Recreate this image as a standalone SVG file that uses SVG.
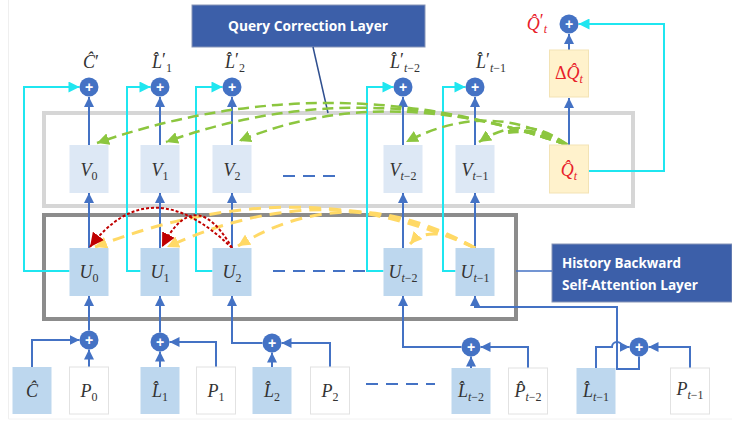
<svg xmlns="http://www.w3.org/2000/svg" width="732" height="422" viewBox="0 0 732 422">
<style>
.m{font-family:"Liberation Serif","DejaVu Serif",serif;font-style:italic;font-size:18px;fill:#333;text-anchor:middle}
.s{font-size:12px}
.n{font-style:normal}
.red{fill:#e8202a}
.ub{fill:#bdd7ee}
.vb{fill:#dde8f5}
.pb{fill:#fff;stroke:#e2e2e2;stroke-width:1}
.qb{fill:#fff2cc;stroke:#f3e3b5;stroke-width:1}
.pc{fill:#4472c4}
.pt{font-family:"Liberation Sans",sans-serif;font-size:14px;font-weight:bold;fill:#fff;text-anchor:middle}
.bl{fill:none;stroke:#4472c4;stroke-width:2}
.cy{fill:none;stroke:#1fe6f0;stroke-width:2}
.gr{fill:none;stroke:#8cc63f;stroke-width:2.5;stroke-dasharray:11 6}
.ye{fill:none;stroke:#ffd966;stroke-width:3;stroke-dasharray:12 8}
.rd{fill:none;stroke:#c00000;stroke-width:2;stroke-dasharray:3 2}
.dsh{fill:none;stroke:#4472c4;stroke-width:2;stroke-dasharray:12 8}
.title{fill:#3c5fa9;stroke:#8796b8;stroke-width:1}
.tt{font-family:"Open Sans","Liberation Sans",sans-serif;font-weight:bold;font-size:14px;fill:#fff}
</style>
<defs>
<marker id="ab" viewBox="0 0 10 10" refX="10" refY="5" markerWidth="10" markerHeight="11" markerUnits="userSpaceOnUse" orient="auto"><path d="M0,0 L10,5 L0,10z" fill="#4472c4"/></marker>
<marker id="ac" viewBox="0 0 10 10" refX="10" refY="5" markerWidth="12" markerHeight="11" markerUnits="userSpaceOnUse" orient="auto"><path d="M0,0 L10,5 L0,10z" fill="#1fe6f0"/></marker>
<marker id="ag" viewBox="0 0 10 10" refX="10" refY="5" markerWidth="12" markerHeight="12" markerUnits="userSpaceOnUse" orient="auto"><path d="M0,0 L10,5 L0,10z" fill="#8cc63f"/></marker>
<marker id="ay" viewBox="0 0 10 10" refX="10" refY="5" markerWidth="12" markerHeight="12" markerUnits="userSpaceOnUse" orient="auto"><path d="M0,0 L10,5 L0,10z" fill="#ffd966"/></marker>
<marker id="ar" viewBox="0 0 10 10" refX="10" refY="5" markerWidth="14" markerHeight="14" markerUnits="userSpaceOnUse" orient="auto"><path d="M0,0 L10,5 L0,10z" fill="#c00000"/></marker>
</defs>
<rect width="732" height="422" fill="#fff"/>
<line x1="8.5" y1="0" x2="8.5" y2="419" stroke="#efefef" stroke-width="1"/>
<line x1="8.5" y1="419" x2="732" y2="419" stroke="#f2f2f2" stroke-width="1"/>

<g id="layers">
<rect x="44" y="113" width="589" height="93" fill="none" stroke="#d6d6d6" stroke-width="4"/>
<rect x="44" y="215" width="472" height="104" fill="none" stroke="#8c8c8c" stroke-width="4"/>
</g>

<g id="query-correction-title">
<rect class="title" x="192" y="5" width="233" height="42"/>
<text class="tt" x="308" y="31" text-anchor="middle" textLength="160" lengthAdjust="spacingAndGlyphs">Query Correction Layer</text>
<line x1="313" y1="47" x2="328" y2="113" stroke="#2f4f8f" stroke-width="1.5"/>
</g>
<g id="history-title">
<rect class="title" x="552" y="244" width="180" height="58"/>
<text class="tt" x="562" y="268" textLength="119" lengthAdjust="spacingAndGlyphs">History Backward</text>
<text class="tt" x="562" y="290" textLength="136" lengthAdjust="spacingAndGlyphs">Self-Attention Layer</text>
<line x1="516" y1="271" x2="552" y2="271" stroke="#4472c4" stroke-width="1.5"/>
</g>

<g id="connectors">
<path class="bl" d="M89,145 V97" marker-end="url(#ab)"/>
<path class="bl" d="M160,145 V97" marker-end="url(#ab)"/>
<path class="bl" d="M232,145 V97" marker-end="url(#ab)"/>
<path class="bl" d="M403,145 V97" marker-end="url(#ab)"/>
<path class="bl" d="M475,145 V97" marker-end="url(#ab)"/>
<path class="bl" d="M569,145 V98" marker-end="url(#ab)"/>
<path class="bl" d="M569,50 V34" marker-end="url(#ab)"/>
<path class="bl" d="M89,248 V193" marker-end="url(#ab)"/>
<path class="bl" d="M160,248 V193" marker-end="url(#ab)"/>
<path class="bl" d="M232,248 V193" marker-end="url(#ab)"/>
<path class="bl" d="M403,248 V193" marker-end="url(#ab)"/>
<path class="bl" d="M475,248 V193" marker-end="url(#ab)"/>
<path class="cy" d="M69.5,271 H24 V87 H79.5" marker-end="url(#ac)"/>
<path class="cy" d="M140.5,271 H127 V87 H150.5" marker-end="url(#ac)"/>
<path class="cy" d="M212.5,271 H196 V87 H222.5" marker-end="url(#ac)"/>
<path class="cy" d="M383.5,271 H367 V87 H393.5" marker-end="url(#ac)"/>
<path class="cy" d="M455.5,271 H443 V87 H465.5" marker-end="url(#ac)"/>
<path class="cy" d="M588.5,171 H664 V24 H578.5" marker-end="url(#ac)"/>
<path class="dsh" d="M283,176 H340"/>
<path class="dsh" d="M273,271 H367"/>
<path class="dsh" d="M366,384 H435"/>
<path class="bl" d="M32,367 V340 H79.5" marker-end="url(#ab)"/>
<path class="bl" d="M89,367 V349.5" marker-end="url(#ab)"/>
<path class="bl" d="M89,330.5 V296" marker-end="url(#ab)"/>
<path class="bl" d="M160,367 V351.5" marker-end="url(#ab)"/>
<path class="bl" d="M216,367 V342 H169.5" marker-end="url(#ab)"/>
<path class="bl" d="M160,332.5 V296" marker-end="url(#ab)"/>
<path class="bl" d="M272,367 V352.5" marker-end="url(#ab)"/>
<path class="bl" d="M330,367 V343 H281.5" marker-end="url(#ab)"/>
<path class="bl" d="M262.5,343 H232 V296" marker-end="url(#ab)"/>
<path class="bl" d="M471,368 V356.5" marker-end="url(#ab)"/>
<path class="bl" d="M528,368 V347 H480.5" marker-end="url(#ab)"/>
<path class="bl" d="M461.5,347 H403 V296" marker-end="url(#ab)"/>
<path class="bl" d="M596,368 V347 H612 A5,5 0 0 1 622,347 H629.5" marker-end="url(#ab)"/>
<path class="bl" d="M690,368 V347 H648.5" marker-end="url(#ab)"/>
<path class="bl" d="M639,356.5 V369 H617 V307 H475 V296" marker-end="url(#ab)"/>
<path class="gr" d="M567,145 Q330,62 97,143" marker-end="url(#ag)"/>
<path class="gr" d="M567,145 Q360,72 166,142" marker-end="url(#ag)"/>
<path class="gr" d="M567,145 Q385,80 239,141" marker-end="url(#ag)"/>
<path class="gr" d="M567,145 Q490,98 406,142" marker-end="url(#ag)"/>
<path class="gr" d="M567,145 Q525,112 479,142" marker-end="url(#ag)"/>
<path class="gr" d="M567,145 Q540,128 508,132" style="stroke-width:4"/>
<path class="ye" d="M475,248 Q300,167 95,247" marker-end="url(#ay)"/>
<path class="ye" d="M475,248 Q330,172 167,247" marker-end="url(#ay)"/>
<path class="ye" d="M475,248 Q350,177 238,246" marker-end="url(#ay)"/>
<path class="ye" d="M475,248 Q430,222 410,244" marker-end="url(#ay)"/>
<path class="rd" d="M232,248 Q150,168 90,247" marker-end="url(#ar)"/>
<path class="rd" d="M232,248 Q195,183 162,247" marker-end="url(#ar)"/>
</g>

<g id="V0"><rect class="vb" x="69.5" y="145" width="39" height="48"/><text class="m" x="89" y="176">V<tspan class="s n" dy="4">0</tspan></text></g>
<g id="V1"><rect class="vb" x="140.5" y="145" width="39" height="48"/><text class="m" x="160" y="176">V<tspan class="s n" dy="4">1</tspan></text></g>
<g id="V2"><rect class="vb" x="212.5" y="145" width="39" height="48"/><text class="m" x="232" y="176">V<tspan class="s n" dy="4">2</tspan></text></g>
<g id="Vt-2"><rect class="vb" x="383.5" y="145" width="39" height="48"/><text class="m" x="403" y="176">V<tspan class="s" dy="4">t</tspan><tspan class="s n">−2</tspan></text></g>
<g id="Vt-1"><rect class="vb" x="455.5" y="145" width="39" height="48"/><text class="m" x="475" y="176">V<tspan class="s" dy="4">t</tspan><tspan class="s n">−1</tspan></text></g>
<g id="Qt"><rect class="qb" x="549.5" y="145" width="39" height="48"/><text class="m red" x="569" y="176">Q̂<tspan class="s" dy="4">t</tspan></text></g>
<g id="dQt"><rect class="qb" x="549.5" y="50" width="39" height="47"/><text class="m red" x="569" y="79"><tspan class="n">Δ</tspan>Q̂<tspan class="s" dy="4">t</tspan></text></g>

<g id="U0"><rect class="ub" x="69.5" y="248" width="39" height="48"/><text class="m" x="89" y="278">U<tspan class="s n" dy="4">0</tspan></text></g>
<g id="U1"><rect class="ub" x="140.5" y="248" width="39" height="48"/><text class="m" x="160" y="278">U<tspan class="s n" dy="4">1</tspan></text></g>
<g id="U2"><rect class="ub" x="212.5" y="248" width="39" height="48"/><text class="m" x="232" y="278">U<tspan class="s n" dy="4">2</tspan></text></g>
<g id="Ut-2"><rect class="ub" x="383.5" y="248" width="39" height="48"/><text class="m" x="403" y="278">U<tspan class="s" dy="4">t</tspan><tspan class="s n">−2</tspan></text></g>
<g id="Ut-1"><rect class="ub" x="455.5" y="248" width="39" height="48"/><text class="m" x="475" y="278">U<tspan class="s" dy="4">t</tspan><tspan class="s n">−1</tspan></text></g>

<g id="Chat"><rect class="ub" x="12.5" y="367" width="39" height="47"/><text class="m" x="32" y="397">Ĉ</text></g>
<g id="P0"><rect class="pb" x="69.5" y="367" width="39" height="47"/><text class="m" x="89" y="397">P<tspan class="s n" dy="4">0</tspan></text></g>
<g id="L1hat"><rect class="ub" x="140.5" y="367" width="39" height="47"/><text class="m" x="160" y="397">L̂<tspan class="s n" dy="4">1</tspan></text></g>
<g id="P1"><rect class="pb" x="196.5" y="367" width="39" height="47"/><text class="m" x="216" y="397">P<tspan class="s n" dy="4">1</tspan></text></g>
<g id="L2hat"><rect class="ub" x="252.5" y="367" width="39" height="47"/><text class="m" x="272" y="397">L̂<tspan class="s n" dy="4">2</tspan></text></g>
<g id="P2"><rect class="pb" x="310.5" y="367" width="39" height="47"/><text class="m" x="330" y="397">P<tspan class="s n" dy="4">2</tspan></text></g>
<g id="Lt-2hat"><rect class="ub" x="451.5" y="368" width="39" height="46"/><text class="m" x="471" y="397">L̂<tspan class="s" dy="4">t</tspan><tspan class="s n">−2</tspan></text></g>
<g id="Pt-2hat"><rect class="pb" x="508.5" y="368" width="39" height="46"/><text class="m" x="528" y="397">P̂<tspan class="s" dy="4">t</tspan><tspan class="s n">−2</tspan></text></g>
<g id="Lt-1hat"><rect class="ub" x="576.5" y="368" width="39" height="46"/><text class="m" x="596" y="397">L̂<tspan class="s" dy="4">t</tspan><tspan class="s n">−1</tspan></text></g>
<g id="Pt-1"><rect class="pb" x="670.5" y="368" width="39" height="46"/><text class="m" x="690" y="395">P<tspan class="s" dy="4">t</tspan><tspan class="s n">−1</tspan></text></g>

<g id="sum-C"><circle class="pc" cx="89" cy="87" r="9.5"/><text class="pt" x="89" y="92">+</text><text class="m" x="91" y="68">Ĉ<tspan class="n">′</tspan></text></g>
<g id="sum-L1"><circle class="pc" cx="160" cy="87" r="9.5"/><text class="pt" x="160" y="92">+</text><text class="m" x="162" y="68">L̂<tspan class="n" dy="-2">′</tspan><tspan class="s n" dy="6">1</tspan></text></g>
<g id="sum-L2"><circle class="pc" cx="232" cy="87" r="9.5"/><text class="pt" x="232" y="92">+</text><text class="m" x="235" y="68">L̂<tspan class="n" dy="-2">′</tspan><tspan class="s n" dy="6">2</tspan></text></g>
<g id="sum-Lt-2"><circle class="pc" cx="403" cy="87" r="9.5"/><text class="pt" x="403" y="92">+</text><text class="m" x="405" y="68">L̂<tspan class="n" dy="-2">′</tspan><tspan class="s" dy="6">t</tspan><tspan class="s n">−2</tspan></text></g>
<g id="sum-Lt-1"><circle class="pc" cx="475" cy="87" r="9.5"/><text class="pt" x="475" y="92">+</text><text class="m" x="491" y="68">L̂<tspan class="n" dy="-2">′</tspan><tspan class="s" dy="6">t</tspan><tspan class="s n">−1</tspan></text></g>
<g id="sum-Q"><circle class="pc" cx="569" cy="24" r="9.5"/><text class="pt" x="569" y="29">+</text><text class="m red" x="537" y="30">Q̂<tspan class="n" dy="-3">′</tspan><tspan class="s" dy="6">t</tspan></text></g>

<g id="sum-0"><circle class="pc" cx="89" cy="340" r="9.5"/><text class="pt" x="89" y="345">+</text></g>
<g id="sum-1"><circle class="pc" cx="160" cy="342" r="9.5"/><text class="pt" x="160" y="347">+</text></g>
<g id="sum-2"><circle class="pc" cx="272" cy="343" r="9.5"/><text class="pt" x="272" y="348">+</text></g>
<g id="sum-t-2"><circle class="pc" cx="471" cy="347" r="9.5"/><text class="pt" x="471" y="352">+</text></g>
<g id="sum-t-1"><circle class="pc" cx="639" cy="347" r="9.5"/><text class="pt" x="639" y="352">+</text></g>
</svg>
